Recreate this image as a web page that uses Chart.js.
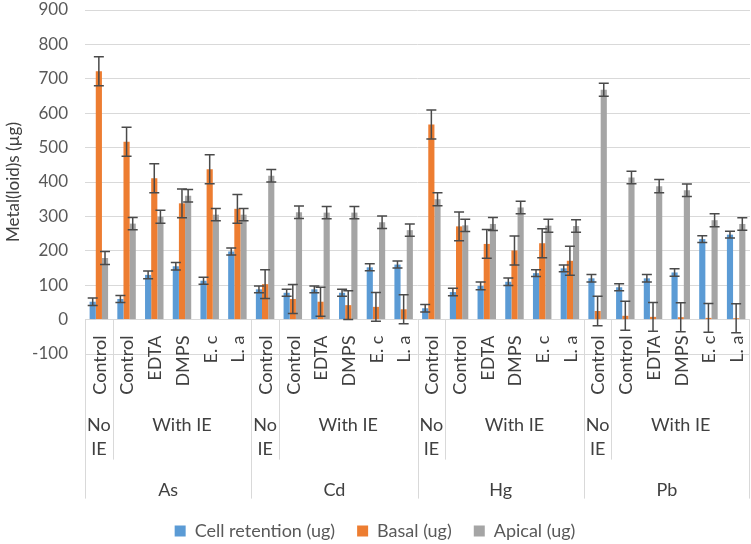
<!DOCTYPE html>
<html>
<head>
<meta charset="utf-8">
<script src="https://cdn.jsdelivr.net/npm/chart.js@4.4.1/dist/chart.umd.min.js"></script>
<style>
  html, body { margin: 0; padding: 0; background: #fff; }
  #wrap { width: 751px; height: 544px; }
</style>
</head>
<body>
<div id="wrap"><canvas id="chartMetales"></canvas></div>
<script>
// categories (3 levels)
const metals = ['As', 'Cd', 'Hg', 'Pb'];
const ieGroups = ['No IE', 'With IE'];
const treatments = ['Control', 'Control', 'EDTA', 'DMPS', 'E. c', 'L. a'];
const yTicks = { min: -100, max: 900, step: 100 };

// series values, order: As, Cd, Hg, Pb x treatments
const cellRetention = [52, 60, 130, 155, 113, 198, 88, 78, 88, 78, 152, 160, 33, 80, 98, 110, 135, 149, 120, 94, 120, 137, 234, 247];
const basal = [722, 517, 411, 338, 437, 322, 103, 60, 52, 42, 37, 30, 567, 271, 220, 201, 222, 171, 25, 11, 8, 7, 5, 4];
const apical = [179, 279, 299, 360, 305, 305, 418, 312, 311, 311, 283, 260, 350, 274, 278, 326, 273, 272, 668, 413, 388, 376, 289, 278];

// error bars (+/-)
const cellErr = [11, 10, 11, 11, 10, 10, 10, 10, 10, 10, 10, 10, 11, 11, 11, 11, 10, 10, 11, 10, 11, 11, 10, 10];
const basalErr = [42, 42, 42, 42, 42, 42, 42, 42, 42, 42, 42, 42, 42, 42, 42, 42, 42, 42, 43, 42, 42, 42, 42, 42];
const apicalErr = [19, 18, 19, 18, 18, 18, 18, 18, 18, 18, 18, 18, 19, 18, 19, 18, 19, 18, 19, 18, 19, 18, 19, 18];

const labels = metals.flatMap(() => treatments);
const errores = [cellErr, basalErr, apicalErr];

const fuente = 'Lato, "Liberation Sans", sans-serif';
const colorTexto = '#404040';
const colorLinea = '#d9d9d9';

const errorBars = {
    id: 'errorBars',
    afterDatasetsDraw(chart) {
        const { ctx, scales: { y } } = chart;
        ctx.save();
        ctx.strokeStyle = '#4a4a4a';
        ctx.lineWidth = 1.5;
        chart.data.datasets.forEach((ds, i) => {
            const meta = chart.getDatasetMeta(i);
            meta.data.forEach((bar, j) => {
                const v = ds.data[j];
                const e = errores[i][j];
                const yTop = y.getPixelForValue(v + e);
                const yBot = y.getPixelForValue(v - e);
                ctx.beginPath();
                ctx.moveTo(bar.x, yTop);
                ctx.lineTo(bar.x, yBot);
                ctx.moveTo(bar.x - 5, yTop);
                ctx.lineTo(bar.x + 5, yTop);
                ctx.moveTo(bar.x - 5, yBot);
                ctx.lineTo(bar.x + 5, yBot);
                ctx.stroke();
            });
        });
        ctx.restore();
    }
};

// multi-level category axis hanging from the zero line
const multiLevelAxis = {
    id: 'multiLevelAxis',
    afterDraw(chart) {
        const { ctx, scales: { x, y } } = chart;
        const y0 = y.getPixelForValue(0);
        const ancho = (x.right - x.left) / labels.length;
        const borde = (i) => x.getPixelForValue(i) - ancho / 2;
        const n = treatments.length;

        ctx.save();
        ctx.strokeStyle = colorLinea;
        ctx.lineWidth = 1;
        ctx.beginPath();
        for (let g = 0; g <= metals.length; g++) {
            const xs = g < metals.length ? borde(g * n) : x.right - 1;
            ctx.moveTo(Math.round(xs) + 0.5, y0);
            ctx.lineTo(Math.round(xs) + 0.5, y0 + 179);
        }
        for (let g = 0; g < metals.length; g++) {
            const xs = borde(g * n + 1);
            ctx.moveTo(Math.round(xs) + 0.5, y0);
            ctx.lineTo(Math.round(xs) + 0.5, y0 + 140);
        }
        ctx.stroke();

        ctx.fillStyle = colorTexto;
        ctx.font = '18px ' + fuente;

        // level 1: treatments, rotated
        labels.forEach((lab, i) => {
            const cx = x.getPixelForValue(i);
            ctx.save();
            ctx.translate(cx + 1, y0 + 16);
            ctx.rotate(-Math.PI / 2);
            ctx.textAlign = 'right';
            ctx.textBaseline = 'middle';
            ctx.fillText(lab, 0, 0);
            ctx.restore();
        });

        // level 2: No IE / With IE
        ctx.textAlign = 'center';
        ctx.textBaseline = 'middle';
        metals.forEach((m, g) => {
            const cNo = x.getPixelForValue(g * n);
            const parts = ieGroups[0].split(' ');
            ctx.fillText(parts[0], cNo, y0 + 106);
            ctx.fillText(parts[1], cNo, y0 + 130);
            const cWith = (borde(g * n + 1) + borde(g * n + n - 1) + ancho) / 2;
            ctx.fillText(ieGroups[1], cWith, y0 + 106);
            // level 3: metal
            const cMetal = (borde(g * n) + borde(g * n + n - 1) + ancho) / 2;
            ctx.fillText(m, cMetal, y0 + 171);
        });
        ctx.restore();
    }
};

const canvas = document.getElementById('chartMetales');
const context = canvas.getContext('2d');

const chartMetales = new Chart(context, {
    type: 'bar',
    data: {
        labels: labels,
        datasets: [
            { label: 'Cell retention (ug)', data: cellRetention, backgroundColor: '#5B9BD5' },
            { label: 'Basal (ug)', data: basal, backgroundColor: '#ED7D31' },
            { label: 'Apical (ug)', data: apical, backgroundColor: '#A5A5A5' }
        ]
    },
    options: {
        responsive: true,
        maintainAspectRatio: false,
        animation: false,
        datasets: { bar: { categoryPercentage: 0.667, barPercentage: 1.0 } },
        layout: { padding: { top: 0, right: 1, bottom: 0, left: 0 } },
        plugins: {
            legend: {
                position: 'bottom',
                maxHeight: 44,
                labels: {
                    boxWidth: 11,
                    boxHeight: 11,
                    padding: 22,
                    color: '#595959',
                    font: { family: fuente, size: 18 }
                }
            },
            tooltip: { enabled: false }
        },
        scales: {
            x: {
                ticks: { display: false },
                grid: { display: false },
                border: { display: false },
                afterFit: (s) => { s.height = 146; }
            },
            y: {
                min: yTicks.min,
                max: yTicks.max,
                ticks: {
                    stepSize: yTicks.step,
                    padding: 17,
                    color: '#595959',
                    font: { family: fuente, size: 17 }
                },
                grid: { color: colorLinea, lineWidth: 1, drawTicks: false },
                border: { display: false },
                title: {
                    display: true,
                    text: 'Metal(loid)s (µg)',
                    color: colorTexto,
                    font: { family: fuente, size: 17 },
                    padding: { top: 3, bottom: 4 }
                },
                afterFit: (s) => {
                    s.width = 85;
                    s.paddingTop = 10;
                    s.paddingBottom = 10;
                }
            }
        }
    },
    plugins: [errorBars, multiLevelAxis]
});
</script>
</body>
</html>
